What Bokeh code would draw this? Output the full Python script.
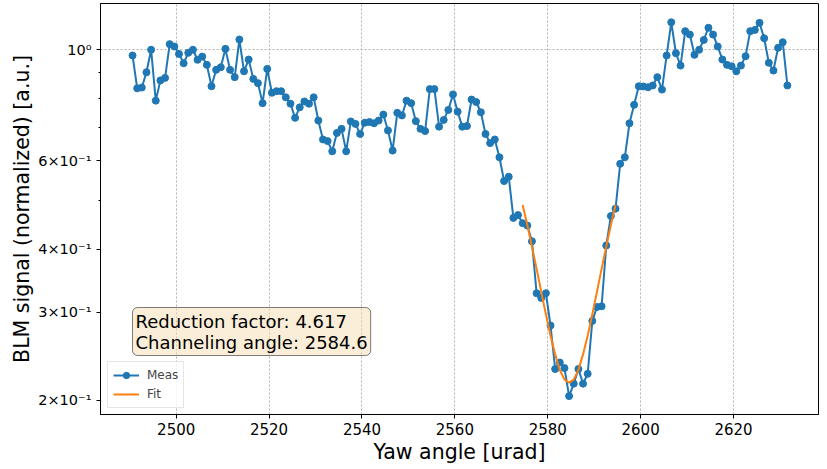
from bokeh.plotting import figure
from bokeh.models import FixedTicker, Label, Range1d, Legend, LegendItem
from bokeh.embed import file_html
from bokeh.resources import INLINE

# Yaw scan positions [urad]
yaw = [
    2490.6, 2491.6, 2492.6, 2493.6, 2494.6, 2495.6, 2496.6, 2497.6, 2498.6, 2499.6,
    2500.6, 2501.6, 2502.6, 2503.6, 2504.6, 2505.6, 2506.6, 2507.6, 2508.6, 2509.6,
    2510.6, 2511.6, 2512.6, 2513.6, 2514.6, 2515.6, 2516.6, 2517.6, 2518.6, 2519.6,
    2520.6, 2521.6, 2522.6, 2523.6, 2524.6, 2525.6, 2526.6, 2527.6, 2528.6, 2529.6,
    2530.6, 2531.6, 2532.6, 2533.6, 2534.6, 2535.6, 2536.6, 2537.6, 2538.6, 2539.6,
    2540.6, 2541.6, 2542.6, 2543.6, 2544.6, 2545.6, 2546.6, 2547.6, 2548.6, 2549.6,
    2550.6, 2551.6, 2552.6, 2553.6, 2554.6, 2555.6, 2556.6, 2557.6, 2558.6, 2559.6,
    2560.6, 2561.6, 2562.6, 2563.6, 2564.6, 2565.6, 2566.6, 2567.6, 2568.6, 2569.6,
    2570.6, 2571.6, 2572.6, 2573.6, 2574.6, 2575.6, 2576.6, 2577.6, 2578.6, 2579.6,
    2580.6, 2581.6, 2582.6, 2583.6, 2584.6, 2585.6, 2586.6, 2587.6, 2588.6, 2589.6,
    2590.6, 2591.6, 2592.6, 2593.6, 2594.6, 2595.6, 2596.6, 2597.6, 2598.6, 2599.6,
    2600.6, 2601.6, 2602.6, 2603.6, 2604.6, 2605.6, 2606.6, 2607.6, 2608.6, 2609.6,
    2610.6, 2611.6, 2612.6, 2613.6, 2614.6, 2615.6, 2616.6, 2617.6, 2618.6, 2619.6,
    2620.6, 2621.6, 2622.6, 2623.6, 2624.6, 2625.6, 2626.6, 2627.6, 2628.6, 2629.6,
    2630.6, 2631.6,
]

# Normalized BLM signal at each yaw position
blm = [
    0.973, 0.837, 0.840, 0.901, 0.999, 0.791, 0.868, 0.878, 1.025, 1.014,
    0.980, 0.939, 0.985, 0.999, 0.954, 0.968, 0.932, 0.845, 0.911, 0.922,
    1.003, 0.911, 0.881, 1.047, 0.905, 0.955, 0.874, 0.857, 0.782, 0.915,
    0.820, 0.826, 0.826, 0.803, 0.780, 0.731, 0.767, 0.788, 0.780, 0.803,
    0.722, 0.662, 0.657, 0.627, 0.682, 0.695, 0.627, 0.719, 0.711, 0.679,
    0.715, 0.717, 0.713, 0.722, 0.742, 0.690, 0.629, 0.748, 0.739, 0.791,
    0.782, 0.720, 0.695, 0.688, 0.834, 0.834, 0.702, 0.724, 0.758, 0.814,
    0.752, 0.702, 0.704, 0.795, 0.786, 0.750, 0.679, 0.651, 0.662, 0.610,
    0.547, 0.558, 0.462, 0.468, 0.451, 0.446, 0.415, 0.327, 0.320, 0.327,
    0.282, 0.231, 0.238, 0.232, 0.204, 0.216, 0.231, 0.216, 0.226, 0.288,
    0.307, 0.308, 0.407, 0.466, 0.482, 0.592, 0.610, 0.713, 0.776, 0.845,
    0.844, 0.841, 0.848, 0.881, 0.832, 0.973, 1.133, 0.983, 0.929, 1.088,
    1.071, 0.976, 0.999, 1.045, 1.105, 1.071, 1.014, 0.955, 0.932, 0.926,
    0.905, 0.929, 0.970, 1.088, 1.094, 1.130, 1.053, 0.941, 0.908, 1.008,
    1.034, 0.848,
]

# Fitted channeling dip
fit_yaw = [
    2574.6, 2575.6, 2576.6, 2577.6, 2578.6, 2579.6, 2580.6, 2581.6, 2582.6, 2583.6,
    2584.6, 2585.6, 2586.6, 2587.6, 2588.6, 2589.6, 2590.6, 2591.6, 2592.6, 2593.6,
    2594.6,
]
fit_blm = [
    0.490, 0.447, 0.405, 0.366, 0.329, 0.297, 0.269, 0.247, 0.230, 0.220,
    0.217, 0.220, 0.230, 0.247, 0.269, 0.297, 0.329, 0.366, 0.405, 0.447,
    0.490,
]

reduction_factor = 4.617
channeling_angle = 2584.6

x_ticks = [2500, 2520, 2540, 2560, 2580, 2600, 2620]
y_major = [0.2, 0.3, 0.4, 0.6, 1.0]
y_minor = [0.5, 0.7, 0.8, 0.9]
y_tick_labels = ["2×10⁻¹", "3×10⁻¹", "4×10⁻¹", "6×10⁻¹", "10⁰"]

FONT = "DejaVu Sans"
BLUE = "#1f77b4"
ORANGE = "#ff7f0e"

p = figure(
    width=827, height=469,
    y_axis_type="log",
    x_range=Range1d(2483.7, 2638.3),
    y_range=Range1d(0.1875, 1.235),
    output_backend="svg", toolbar_location=None,
    min_border_left=100, min_border_right=9,
    min_border_top=3, min_border_bottom=55,
)
p.background_fill_color = "white"
p.border_fill_color = "white"
p.outline_line_color = "black"
p.outline_line_width = 1

# axes
p.xaxis.ticker = FixedTicker(ticks=x_ticks)
p.xaxis.axis_label = "Yaw angle [urad]"
p.yaxis.ticker = FixedTicker(ticks=y_major, minor_ticks=y_minor)
p.yaxis.major_label_overrides = dict(zip(y_major, y_tick_labels))
p.yaxis.axis_label = "BLM signal (normalized) [a.u.]"

for ax in (p.xaxis, p.yaxis):
    ax.axis_line_color = "black"
    ax.major_tick_line_color = "black"
    ax.minor_tick_line_color = "black"
    ax.major_tick_in = 0
    ax.major_tick_out = 4
    ax.minor_tick_in = 0
    ax.minor_tick_out = 2
    ax.major_label_text_font = FONT
    ax.major_label_text_color = "black"
    ax.axis_label_text_font = FONT
    ax.axis_label_text_font_style = "normal"
    ax.axis_label_text_color = "black"
    ax.axis_label_text_font_size = "20.5px"

p.xaxis.major_label_text_font_size = "15px"
p.xaxis.major_label_standoff = 4
p.xaxis.axis_label_standoff = 2
p.xaxis.minor_tick_out = 0
p.yaxis.major_label_text_font_size = "14.5px"
p.yaxis.major_label_standoff = 5
p.yaxis.axis_label_standoff = 1

# grid: vertical lines at every x tick, horizontal only at 10^0
p.xgrid.ticker = FixedTicker(ticks=x_ticks)
p.ygrid.ticker = FixedTicker(ticks=[1.0])
for g in (p.xgrid, p.ygrid):
    g.grid_line_color = "#a0a0a0"
    g.grid_line_dash = "2 2"
    g.grid_line_width = 0.8

# data
meas_line = p.line(yaw, blm, line_color=BLUE, line_width=2)
meas_pts = p.scatter(yaw, blm, size=7, fill_color=BLUE, line_color=BLUE)
fit_line = p.line(fit_yaw, fit_blm, line_color=ORANGE, line_width=2)

legend = Legend(
    items=[
        LegendItem(label="Meas", renderers=[meas_line, meas_pts]),
        LegendItem(label="Fit", renderers=[fit_line]),
    ],
    location=(7, 6),
    label_text_font=FONT,
    label_text_font_size="12px",
    glyph_width=26, glyph_height=16, label_height=16,
    label_standoff=8, spacing=3, padding=5, margin=0,
    border_line_color="#cccccc",
    background_fill_alpha=0.8,
)
p.add_layout(legend)

info = Label(
    x=32, y=59, x_units="screen", y_units="screen",
    text=f"Reduction factor: {reduction_factor:.3f}\nChanneling angle: {channeling_angle:.1f}",
    text_font=FONT, text_font_size="18px", text_color="black",
    text_line_height=1.0,
    text_baseline="bottom",
    background_fill_color="wheat", background_fill_alpha=0.5,
    border_line_color="black", border_line_alpha=0.5,
    padding=3, border_radius=5,
)
p.add_layout(info)

open("out.html", "w").write(file_html(p, INLINE))
